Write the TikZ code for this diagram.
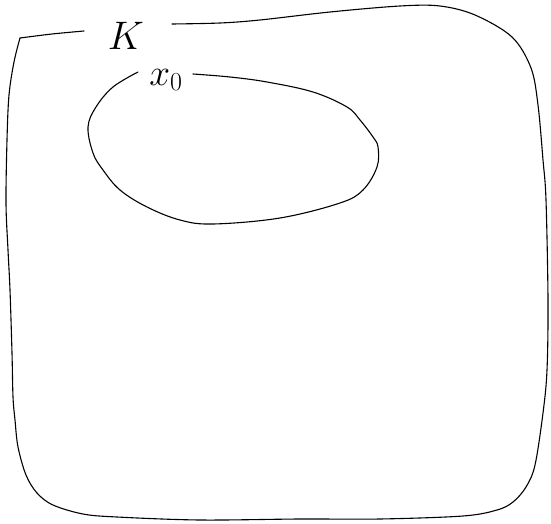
\documentclass[tikz,border=0pt]{standalone}
\begin{document}
\begin{tikzpicture}[x=1pt,y=-1pt,
  stroke/.style={line width=1.1pt,line cap=round,line join=round},
  lbl/.style={inner sep=0pt,font=\Huge}]
\useasboundingbox (0,0) rectangle (551,524);
% outer set K
\draw[stroke] plot[smooth] coordinates {(84,31) (52,34) (20,38)};
\draw[stroke] plot[smooth,tension=0.55] coordinates {
 (20,38) (14,62) (9,95) (7,140) (6,203) (8,250) (10,290) (12,353) (13,397)
 (15,420) (18,447) (26,475) (37,493) (53,505) (83,514) (117,517) (200,520)
 (300,519) (380,519) (463,516) (497,510) (513,502) (526,487) (535,465)
 (543,413) (547,370) (548,300) (546,200) (543,160) (538,105) (531,68)
 (512,37) (475,15) (440,6) (400,6) (330,12) (260,20) (220,23) (172,24)};
\node[lbl,scale=1.6] (K) at (126,36) {$K$};
% inner set around x0
\draw[stroke] plot[smooth,tension=0.6] coordinates {
 (138,72) (113,87) (96,107) (88,127) (93,153) (103,170) (120,190) (147,207)
 (180,220) (213,224) (280,218) (340,203) (363,190) (377,167) (378,147)
 (373,137) (360,120) (347,107) (313,92) (267,82) (230,77) (193,74)};
\node[lbl,scale=1.5] (x0) at (166,80) {$x_{\scriptscriptstyle 0}$};
\end{tikzpicture}
\end{document}
